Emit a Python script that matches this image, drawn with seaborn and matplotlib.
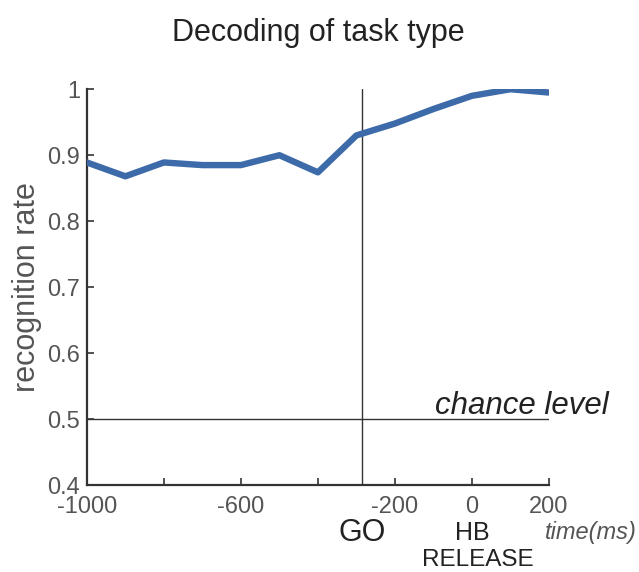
import numpy as np
import pandas as pd
import matplotlib
matplotlib.use('Agg')
import matplotlib.pyplot as plt
import seaborn as sns

# data
time_ms = [-1000, -900, -800, -700, -600, -500, -400, -300, -200, -100, 0, 100, 200]
recog_rate = [0.889, 0.868, 0.889, 0.885, 0.885, 0.900, 0.874, 0.930, 0.948, 0.970, 0.990, 1.000, 0.995]
go_time = -285
chance = 0.5
xticks = [-1000, -800, -600, -400, -200, 0, 200]
xtick_labels = ['-1000', '', '-600', '', '-200', '0', '200']
yticks = [0.4, 0.5, 0.6, 0.7, 0.8, 0.9, 1.0]
ytick_labels = ['0.4', '0.5', '0.6', '0.7', '0.8', '0.9', '1']

df = pd.DataFrame({'time': time_ms, 'rate': recog_rate})

sns.set_style('ticks')
plt.rcParams['font.family'] = ['Liberation Sans', 'DejaVu Sans']

fig = plt.figure(figsize=(6.39, 5.72), dpi=100)
ax = fig.add_axes([0.136, 0.152, 0.723, 0.692])

sns.lineplot(data=df, x='time', y='rate', ax=ax, color='#3d6aa8', linewidth=4.6, zorder=3)

# chance level and GO line
ax.plot([-1000, 200], [chance, chance], color='#333333', linewidth=1.0)
ax.plot([go_time, go_time], [0.4, 1.0], color='#333333', linewidth=1.0)

ax.set_xlim(-1000, 200)
ax.set_ylim(0.4, 1.0)
ax.set_xticks(xticks)
ax.set_xticklabels(xtick_labels)
ax.set_yticks(yticks)
ax.set_yticklabels(ytick_labels)
ax.tick_params(direction='in', length=5, width=1.2, colors='#333333', labelsize=17, labelcolor='#555555')
ax.tick_params(axis='y', pad=5)
ax.tick_params(axis='x', pad=8)

for s in ['top', 'right']:
    ax.spines[s].set_visible(False)
for s in ['left', 'bottom']:
    ax.spines[s].set_color('#333333')
    ax.spines[s].set_linewidth(1.6)

ax.set_xlabel('')
ax.set_ylabel('recognition rate', fontsize=22, color='#555555', labelpad=4)
ax.set_title('Decoding of task type', fontsize=22, color='#222222', pad=35)

ax.text(-96, 0.52, 'chance level', fontsize=22.5, style='italic', color='#222222', ha='left', va='center')

xt = ax.get_xaxis_transform()
ax.text(go_time, -0.12, 'GO', transform=xt, fontsize=22, ha='center', va='center', color='#222222')
ax.text(0, -0.12, 'HB', transform=xt, fontsize=18, ha='center', va='center', color='#222222')
ax.text(15, -0.19, 'RELEASE', transform=xt, fontsize=17.5, ha='center', va='center', color='#222222')
ax.text(309, -0.12, 'time(ms)', transform=xt, fontsize=17, style='italic', ha='center', va='center', color='#555555')

fig.savefig('out.png', dpi=100)
